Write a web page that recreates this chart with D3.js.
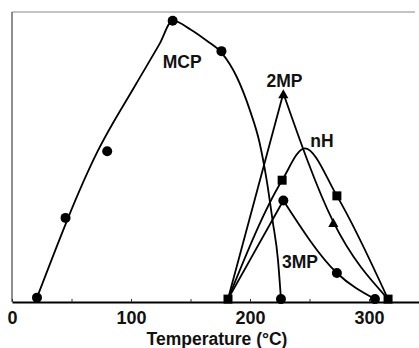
<!DOCTYPE html>
<html>
<head>
<meta charset="utf-8">
<script src="https://cdn.jsdelivr.net/npm/d3@7"></script>
<style>
body { margin: 0; background: #fff; }
text { font-family: "Liberation Sans", Arial, sans-serif; font-weight: bold; fill: #111; }
</style>
</head>
<body>
<svg class="chart" width="419" height="348"></svg>
<script>
const xTicks = [0, 50, 100, 150, 200, 250, 300];
const xLabels = [0, 100, 200, 300];

// MCP: measured points and the drawn curve through them
const mcpT = [21, 45, 80, 135, 176, 226];
const mcpV = [1.5, 29, 52, 97, 86.5, 1];
const mcpFitT = [21, 72, 104, 124, 135, 150, 164, 176, 189, 200, 208, 214, 219, 223.5, 226];
const mcpFitV = [1.5, 52, 75, 89, 97, 94, 90, 86, 77.5, 66, 55, 42, 28, 14.5, 1];

// 2MP (triangles)
const twoMpT = [181.5, 228, 270, 316];
const twoMpV = [1, 72, 27.6, 1];

// nH (squares), curve has its top between the markers
const nhT = [181.5, 227, 273, 316];
const nhV = [1, 42, 36.6, 1];
const nhFitT = [181.5, 227, 246, 273, 316];
const nhFitV = [1, 42, 53, 36.6, 1];

// 3MP (circles)
const threeMpT = [181.5, 228, 273, 305];
const threeMpV = [1, 35, 10, 1];

const labelNames = ['MCP', '2MP', 'nH', '3MP'];
const labelT = [143, 229, 260.5, 242];
const labelV = [80.7, 74, 53.4, 11.7];

const chart = d3.select('.chart');
const width = +chart.attr('width');
const height = +chart.attr('height');

const x = d3.scaleLinear().domain([0, 342]).range([12, width]);
const y = d3.scaleLinear().domain([0, 100]).range([302, 12]);

const zip = (T, V) => T.map((t, i) => [t, V[i]]);
const line = curve => d3.line().x(d => x(d[0])).y(d => y(d[1])).curve(curve);

// frame: faint top and left, heavy bottom axis
chart.append('line')
    .attr('x1', x(0)).attr('x2', width - 4)
    .attr('y1', y(100)).attr('y2', y(100))
    .attr('stroke', '#888').attr('stroke-width', 1);
chart.append('line')
    .attr('x1', x(0)).attr('x2', x(0))
    .attr('y1', y(100)).attr('y2', y(0))
    .attr('stroke', '#444').attr('stroke-width', 1.2);

const xAxis = chart.append('g')
    .attr('transform', `translate(0,${y(0)})`)
    .call(d3.axisBottom(x)
        .tickValues(xTicks)
        .tickFormat(d => xLabels.includes(d) ? d : '')
        .tickSizeInner(-3)
        .tickSizeOuter(0)
        .tickPadding(9));
xAxis.select('.domain').attr('stroke', '#000').attr('stroke-width', 2);
xAxis.selectAll('.tick line').attr('stroke', '#333');
xAxis.selectAll('.tick text').attr('font-size', 18);

chart.append('text')
    .attr('x', 217).attr('y', 345)
    .attr('text-anchor', 'middle')
    .attr('font-size', 17.5)
    .text('Temperature (°C)');

const g = chart.append('g')
    .attr('fill', 'none').attr('stroke', '#000').attr('stroke-width', 1.8);

g.append('path').attr('d', line(d3.curveMonotoneX)(zip(mcpFitT, mcpFitV)));
g.append('path').attr('d', line(d3.curveMonotoneX)(zip(nhFitT, nhFitV)));

// 2MP and 3MP rise to a sharp top, then fall in a curve
[[twoMpT, twoMpV], [threeMpT, threeMpV]].forEach(([T, V]) => {
    const pts = zip(T, V);
    const top = d3.maxIndex(V);
    g.append('path').attr('d', line(d3.curveLinear)(pts.slice(0, top + 1)));
    g.append('path').attr('d', line(d3.curveMonotoneX)(pts.slice(top)));
});

const marks = chart.append('g').attr('fill', '#000');

marks.selectAll('.tri').data(zip(twoMpT, twoMpV).slice(1, -1))
    .enter().append('path')
    .attr('transform', d => `translate(${x(d[0])},${y(d[1]) + 2})`)
    .attr('d', d3.symbol(d3.symbolTriangle).size(45));

marks.selectAll('.sq').data(zip(nhT, nhV))
    .enter().append('rect')
    .attr('x', d => x(d[0]) - 4.5)
    .attr('y', d => y(d[1]) - 4.5)
    .attr('width', 9).attr('height', 9);

marks.selectAll('.dot').data(zip(mcpT, mcpV).concat(zip(threeMpT, threeMpV).slice(1)))
    .enter().append('circle')
    .attr('cx', d => x(d[0]))
    .attr('cy', d => y(d[1]))
    .attr('r', 5);

chart.selectAll('.lbl').data(labelNames)
    .enter().append('text')
    .attr('x', (d, i) => x(labelT[i]))
    .attr('y', (d, i) => y(labelV[i]))
    .attr('text-anchor', 'middle')
    .attr('font-size', 17.5)
    .text(d => d);
</script>
</body>
</html>
